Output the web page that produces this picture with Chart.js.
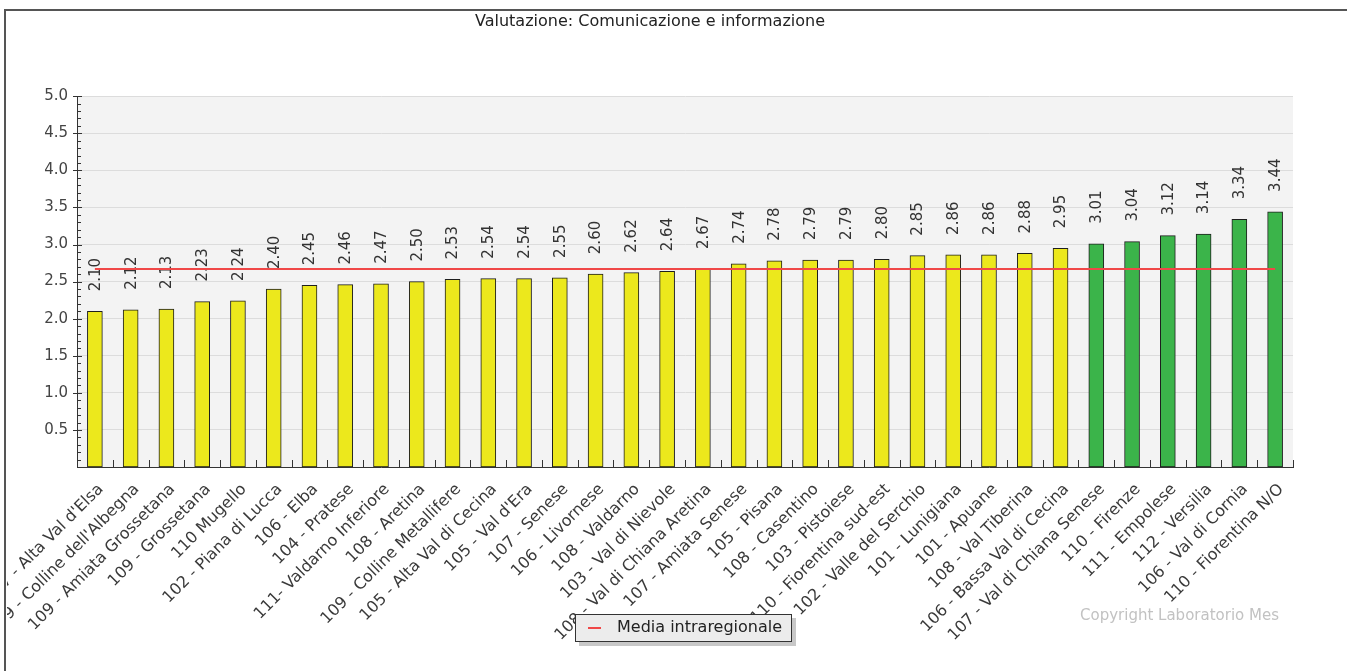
<!DOCTYPE html>
<html>
<head>
<meta charset="utf-8">
<script src="https://cdn.jsdelivr.net/npm/chart.js@4.4.0/dist/chart.umd.min.js"></script>
<style>
  body { margin: 0; background: #fff; width: 1347px; height: 671px; overflow: hidden; position: relative; font-family: 'DejaVu Sans', sans-serif; }
  #frame { position: absolute; left: 4px; top: 9px; width: 1400px; height: 700px; border-top: 2px solid #555; border-left: 2px solid #555; }
  #wrap { position: absolute; left: 7px; top: 12px; width: 1340px; height: 659px; }
  #legenda { position: absolute; left: 575px; top: 614px; width: 215px; height: 26px; background: #ececec; border: 1px solid #333; box-shadow: 4px 4px 0 #c8c8c8; font-size: 16px; color: #222; }
  #legenda .seg { position: absolute; left: 12px; top: 12px; width: 13px; height: 2px; background: #f04848; }
  #legenda .txt { position: absolute; left: 41px; top: 2px; }
  #copy { position: absolute; left: 1080px; top: 606px; font-size: 15px; color: #c2c2c2; }
</style>
</head>
<body>
<div id="frame"></div>
<div id="wrap"><canvas id="chart" width="1340" height="659"></canvas></div>
<div id="legenda"><div class="seg"></div><div class="txt">Media intraregionale</div></div>
<div id="copy">Copyright Laboratorio Mes</div>
<script>
// Zone distretto e valutazione
var zone = [
  "107 - Alta Val d'Elsa", "109 - Colline dell'Albegna", "109 - Amiata Grossetana", "109 - Grossetana",
  "110 Mugello", "102 - Piana di Lucca", "106 - Elba", "104 - Pratese", "111- Valdarno Inferiore",
  "108 - Aretina", "109 - Colline Metallifere", "105 - Alta Val di Cecina", "105 - Val d'Era",
  "107 - Senese", "106 - Livornese", "108 - Valdarno", "103 - Val di Nievole",
  "108 - Val di Chiana Aretina", "107 - Amiata Senese", "105 - Pisana", "108 - Casentino",
  "103 - Pistoiese", "110 - Fiorentina sud-est", "102 - Valle del Serchio", "101 - Lunigiana",
  "101 - Apuane", "108 - Val Tiberina", "106 - Bassa Val di Cecina", "107 - Val di Chiana Senese",
  "110 - Firenze", "111 - Empolese", "112 - Versilia", "106 - Val di Cornia", "110 - Fiorentina N/O"
];
var valori = [
  2.10, 2.12, 2.13, 2.23, 2.24, 2.40, 2.45, 2.46, 2.47, 2.50, 2.53, 2.54, 2.54, 2.55, 2.60, 2.62, 2.64,
  2.67, 2.74, 2.78, 2.79, 2.79, 2.80, 2.85, 2.86, 2.86, 2.88, 2.95, 3.01, 3.04, 3.12, 3.14, 3.34, 3.44
];
var media = 2.67;
var yTicks = [0.5, 1.0, 1.5, 2.0, 2.5, 3.0, 3.5, 4.0, 4.5, 5.0];

var GIALLO = '#ece81c', VERDE = '#3bb44a';
var colori = valori.map(function(v) { return v >= 3 ? VERDE : GIALLO; });

Chart.defaults.font.family = "'DejaVu Sans', sans-serif";
Chart.defaults.font.size = 15;
Chart.defaults.color = '#333';

// sfondo area grafico
var sfondo = {
  id: 'sfondo',
  beforeDraw: function(chart) {
    var a = chart.chartArea, ctx = chart.ctx;
    ctx.save();
    ctx.fillStyle = '#f3f3f3';
    ctx.fillRect(a.left, a.top, a.right - a.left, a.bottom - a.top);
    ctx.restore();
  }
};

// etichette valori sopra le barre (sotto la linea rossa)
var etichette = {
  id: 'etichette',
  beforeDatasetsDraw: function(chart) {
    var meta = chart.getDatasetMeta(1), ctx = chart.ctx;
    ctx.save();
    ctx.font = "15px 'DejaVu Sans'";
    ctx.fillStyle = '#333';
    ctx.textAlign = 'left';
    ctx.textBaseline = 'middle';
    meta.data.forEach(function(bar, i) {
      ctx.save();
      ctx.translate(bar.x + 1, bar.y - 20);
      ctx.rotate(-Math.PI / 2);
      ctx.fillText(valori[i].toFixed(2), 0, 0);
      ctx.restore();
    });
    ctx.restore();
  }
};

// tacche degli assi
var tacche = {
  id: 'tacche',
  afterDraw: function(chart) {
    var ctx = chart.ctx, x = chart.scales.x, y = chart.scales.y, a = chart.chartArea;
    ctx.save();
    ctx.strokeStyle = '#333';
    ctx.lineWidth = 1;
    ctx.beginPath();
    for (var k = 1; k <= 50; k++) {
      var py = Math.round(y.getPixelForValue(k / 10)) + 0.5;
      var major = k % 5 === 0;
      ctx.moveTo(a.left - (major ? 4 : 0), py);
      ctx.lineTo(a.left + (major ? 5 : 4), py);
    }
    for (var i = 0; i <= zone.length; i++) {
      var px = i < zone.length ? x.getPixelForValue(i) - (x.getPixelForValue(1) - x.getPixelForValue(0)) / 2 : a.right;
      px = Math.round(px) + 0.5;
      ctx.moveTo(px, a.bottom);
      ctx.lineTo(px, a.bottom - 7);
    }
    ctx.stroke();
    ctx.restore();
  }
};

new Chart(document.getElementById('chart'), {
  data: {
    labels: zone,
    datasets: [
      {
        type: 'line',
        label: 'Media intraregionale',
        data: zone.map(function() { return media; }),
        borderColor: '#f04848',
        borderWidth: 2,
        pointRadius: 0,
        fill: false
      },
      {
        type: 'bar',
        label: 'Valutazione',
        data: valori,
        backgroundColor: colori,
        borderColor: '#1e1e1e',
        borderWidth: 1,
        borderSkipped: false,
        barThickness: 15
      }
    ]
  },
  options: {
    responsive: false,
    animation: false,
    devicePixelRatio: 1,
    layout: { padding: { top: 0, right: 54, left: 0, bottom: 0 } },
    plugins: {
      legend: { display: false },
      tooltip: { enabled: false },
      title: {
        display: true,
        text: 'Valutazione: Comunicazione e informazione',
        color: '#222',
        font: { size: 16, weight: 'normal' },
        padding: { top: 0, bottom: 65 }
      }
    },
    scales: {
      x: {
        offset: true,
        grid: { display: false, drawTicks: false },
        border: { display: true, color: '#333', width: 1 },
        ticks: { autoSkip: false, minRotation: 45, maxRotation: 45, padding: 13, labelOffset: 6, color: '#3a3a3a', font: { size: 16 } },
        afterFit: function(s) { s.height = 204; s.paddingLeft = 0; s.paddingRight = 0; }
      },
      y: {
        min: 0,
        max: 5,
        afterBuildTicks: function(s) { s.ticks = yTicks.map(function(v) { return { value: v }; }); },
        grid: {
          drawTicks: false,
          color: '#dcdcdc'
        },
        border: { display: true, color: '#333', width: 1 },
        ticks: {
          padding: 9,
          color: '#444',
          callback: function(v) { return v.toFixed(1); }
        },
        afterFit: function(s) { s.width = 70; }
      }
    }
  },
  plugins: [sfondo, etichette, tacche]
});
</script>
</body>
</html>
